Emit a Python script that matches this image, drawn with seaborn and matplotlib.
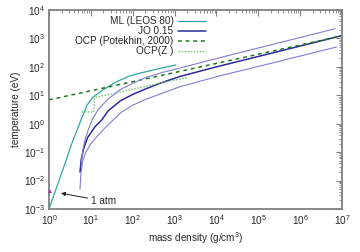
import numpy as np
import pandas as pd
import matplotlib
matplotlib.use("Agg")
import matplotlib.pyplot as plt
from matplotlib.ticker import LogLocator, NullFormatter
import seaborn as sns

# ---- data ----
ml_rho = [1.0, 2.0, 3.5, 5.8, 8.1, 11.2, 19.5, 40, 85, 148, 400, 1070]
ml_T = [1.0e-3, 0.018, 0.2, 1.35, 4.6, 8.5, 15.5, 29.5, 48, 60, 85, 117]

jo_mid_rho = [5.5, 5.9, 6.8, 8.3, 12.6, 18.2, 25.7, 50, 100, 200, 500, 1350, 1.0e4, 3.2e5, 1.0e7]
jo_mid_T = [0.02, 0.056, 0.14, 0.32, 0.79, 1.35, 2.8, 6.3, 10.7, 16.6, 28, 46, 100, 355, 1260]

jo_hi_rho = [5.9, 6.3, 7.1, 8.5, 10.7, 14.8, 25, 50, 100, 200, 500, 1350, 1.26e4, 3.2e5, 6.8e6]
jo_hi_T = [0.032, 0.1, 0.25, 0.56, 1.35, 3.1, 7.1, 15.8, 26.3, 41.7, 63, 91, 214, 708, 2190]

jo_lo_rho = [5.5, 5.75, 6.3, 7.6, 10, 13.2, 20, 34, 55, 100, 200, 500, 1350, 1.0e4, 3.2e5, 7.4e6]
jo_lo_T = [0.005, 0.016, 0.045, 0.1, 0.2, 0.32, 0.63, 1.35, 2.6, 4.5, 7.1, 11.7, 20, 45, 158, 500]

ocp_rho = [1.0, 1.0e3, 1.0e7]
ocp_T = [6.9, 63, 1230]

ocpz_rho = [6.0, 11.7, 12.3, 15.8, 40, 158, 500, 1350, 2100]
ocpz_T = [2.6, 2.6, 8.3, 9.1, 12, 19, 28, 37, 43]

atm_rho = [1.05]
atm_T = [0.0043]

labels = ["ML (LEOS 80)", "JO 0.15", "OCP (Potekhin, 2000)", "OCP(Z )"]

# ---- style ----
sns.set_style("white")
plt.rcParams['font.family'] = ['Liberation Sans', 'DejaVu Sans']
plt.rcParams['mathtext.fontset'] = 'custom'
plt.rcParams['mathtext.rm'] = 'Liberation Sans'
plt.rcParams['mathtext.it'] = 'Liberation Sans:italic'

fig = plt.figure(figsize=(3.6, 2.52), dpi=100)
ax = fig.add_axes([49/360, 1 - 209/252, 293/360, 199/252])

c_teal = "#2fa6a3"
c_dark = "#2b2b9e"
c_light = "#7f7dd2"
c_dash = "#1b7a1b"
c_dot = "#66c466"

sns.lineplot(x=ml_rho, y=ml_T, ax=ax, color=c_teal, lw=0.9, sort=False,
             estimator=None, label=labels[0])
sns.lineplot(x=jo_mid_rho, y=jo_mid_T, ax=ax, color=c_dark, lw=1.1, sort=False,
             estimator=None, label=labels[1])
sns.lineplot(x=ocp_rho, y=ocp_T, ax=ax, color=c_dash, lw=1.1, sort=False,
             estimator=None, label=labels[2], linestyle=(0, (2.5, 2.5)))
sns.lineplot(x=ocpz_rho, y=ocpz_T, ax=ax, color=c_dot, lw=1.0, sort=False,
             estimator=None, label=labels[3], linestyle=(0, (1, 1.2)))
sns.lineplot(x=jo_hi_rho, y=jo_hi_T, ax=ax, color=c_light, lw=0.8, sort=False,
             estimator=None)
sns.lineplot(x=jo_lo_rho, y=jo_lo_T, ax=ax, color=c_light, lw=0.8, sort=False,
             estimator=None)
sns.scatterplot(x=atm_rho, y=atm_T, ax=ax, color="#c020c0", marker="^", s=8,
                edgecolor="none", zorder=5, clip_on=False)

ax.set_xscale('log')
ax.set_yscale('log')
ax.set_xlim(1, 1e7)
ax.set_ylim(1e-3, 1e4)

ax.xaxis.set_major_locator(LogLocator(base=10, numticks=20))
ax.yaxis.set_major_locator(LogLocator(base=10, numticks=20))
ax.xaxis.set_minor_locator(LogLocator(base=10, subs=np.arange(2, 10), numticks=200))
ax.yaxis.set_minor_locator(LogLocator(base=10, subs=np.arange(2, 10), numticks=200))
ax.xaxis.set_minor_formatter(NullFormatter())
ax.yaxis.set_minor_formatter(NullFormatter())

for s in ax.spines.values():
    s.set_color("#808080")
    s.set_linewidth(1.3)
ax.tick_params(which='both', direction='in', top=True, right=True,
               color="#808080", labelsize=7.2, pad=3)
ax.tick_params(which='major', length=4, width=0.8)
ax.tick_params(which='minor', length=2, width=0.6)

ax.set_xlabel("mass density (g/cm$^3$)", fontsize=7.2, labelpad=2)
ax.set_ylabel("temperature (eV)", fontsize=7.2, labelpad=2)

ax.annotate("1 atm", xy=(1.93, 0.0036), xytext=(10, 0.0019),
            fontsize=7.2, ha='left', va='center',
            arrowprops=dict(arrowstyle='-|>', color='#202020', lw=0.7,
                            mutation_scale=6, shrinkA=0, shrinkB=0))

leg = ax.legend(loc='upper right', bbox_to_anchor=(0.555, 1.0), frameon=False,
                fontsize=7.2, markerfirst=False, handlelength=2.8,
                handletextpad=0.4, labelspacing=0.0, borderaxespad=0.2)
for t in leg.get_texts():
    t.set_ha('right')

fig.savefig("out.png", dpi=100)
